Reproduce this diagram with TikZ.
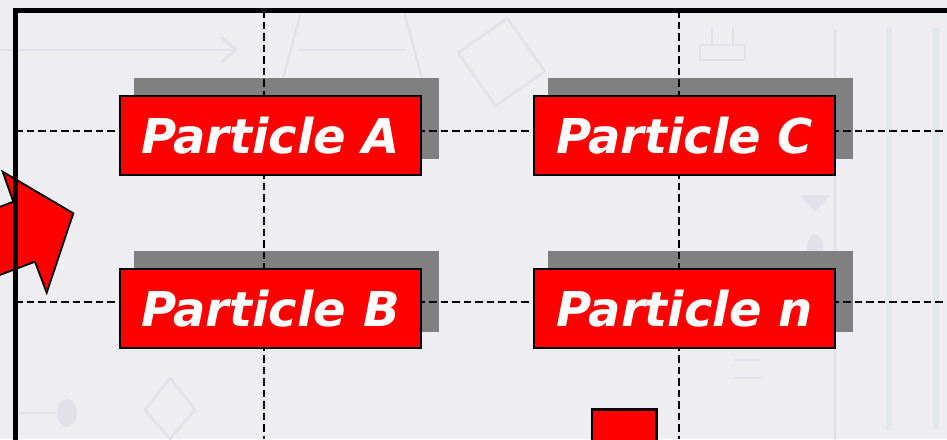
\documentclass[tikz,border=0pt]{standalone}
\usepackage{fontspec}
\newfontfamily\boxfont{DejaVu Sans}
\pgfdeclarelayer{paperlayer}
\pgfdeclarelayer{shadowlayer}
\pgfdeclarelayer{gridlayer}
\pgfsetlayers{paperlayer,shadowlayer,gridlayer,main}
\definecolor{paper}{HTML}{EDEDF2}
\definecolor{faint}{HTML}{E2E1EB}
\definecolor{faintblue}{HTML}{E0E8EE}
\definecolor{shadowgray}{HTML}{808080}
\definecolor{boxred}{HTML}{FF0000}
\tikzset{
  particle/.style={draw=black, line width=2pt, fill=boxred, text=white,
    minimum width=301pt, minimum height=79pt, inner sep=0pt,
    font=\boxfont\bfseries\itshape\fontsize{48}{48}\selectfont,
    text height=35pt, text depth=0pt},
  gridline/.style={black, line width=1.5pt, dash pattern=on 7.5pt off 4pt},
  watermark/.style={faint, line width=2.5pt, line cap=round, line join=round},
  frame/.style={black, line width=5pt},
  redshape/.style={draw=black, line width=1.8pt, fill=boxred, line join=miter}
}
\newcommand{\dropshadow}[1]{%
  \fill[shadowgray] ([xshift=15pt,yshift=17pt]#1.north west) rectangle ([xshift=17pt,yshift=17pt]#1.south east);}
\begin{document}
\begin{tikzpicture}[x=1pt, y=-1pt]
  \clip (0,0) rectangle (947,439);

  \begin{pgfonlayer}{paperlayer}
    \fill[paper] (0,0) rectangle (947,439);
    % faint background pictograms
    \draw[watermark] (0,50) -- (235,50);
    \draw[watermark] (222,38) -- (236,50) -- (222,62);
    \draw[watermark] (300,15) -- (280,90);
    \draw[watermark] (405,15) -- (425,90);
    \draw[watermark] (300,50) -- (405,50);
    \draw[watermark, rotate around={35:(500,60)}] (470,30) rectangle (530,95);
    \draw[watermark] (700,45) rectangle (745,60);
    \draw[watermark] (712,28) -- (712,45) (733,28) -- (733,45);
    \draw[watermark] (835,30) -- (835,439);
    \fill[faintblue] (886,28) rectangle (892,430);
    \fill[faintblue] (933,28) rectangle (939,430);
    \fill[faint] (800,195) -- (830,195) -- (815,212) -- cycle;
    \fill[faint] (815,248) ellipse (8pt and 14pt);
    \fill[faint] (67,413) ellipse (10pt and 14pt);
    \draw[watermark] (20,413) -- (55,413);
    \draw[watermark] (170,378) -- (195,410) -- (170,439) -- (145,410) -- cycle;
    \draw[watermark] (735,360) -- (760,360) (735,378) -- (760,378);
  \end{pgfonlayer}

  % particle boxes
  \node[particle] (A) at (270.5,135.5) {Particle A};
  \node[particle] (C) at (684.5,135.5) {Particle C};
  \node[particle] (B) at (270.5,308.5) {Particle B};
  \node[particle] (n) at (684.5,308.5) {Particle n};

  % offset shadows behind the boxes
  \begin{pgfonlayer}{shadowlayer}
    \dropshadow{A}
    \dropshadow{B}
    \dropshadow{C}
    \dropshadow{n}
  \end{pgfonlayer}

  % dashed grid through the boxes
  \coordinate (gtop1) at (264,10);   \coordinate (gbot1) at (264,439);
  \coordinate (gtop2) at (679,10);   \coordinate (gbot2) at (679,439);
  \coordinate (gl1) at (15,131);     \coordinate (gr1) at (947,131);
  \coordinate (gl2) at (15,302);     \coordinate (gr2) at (947,302);
  \begin{pgfonlayer}{gridlayer}
    \draw[gridline] (gtop1) -- (gbot1);
    \draw[gridline] (gtop2) -- (gbot2);
    \draw[gridline] (gl1) -- (gr1);
    \draw[gridline] (gl2) -- (gr2);
  \end{pgfonlayer}

  % block arrow entering from the left
  \draw[redshape] (-40,222) -- (13.3,201.7) -- (2.7,171.7) -- (73.3,213.3)
    -- (46.7,292.7) -- (35,261.7) -- (-40,290) -- cycle;

  % red block at the bottom edge
  \draw[redshape, line width=2.2pt] (592,409.5) rectangle (656.5,460);

  % outer frame
  \draw[frame] (15.5,460) -- (15.5,10) -- (960,10);
\end{tikzpicture}
\end{document}
